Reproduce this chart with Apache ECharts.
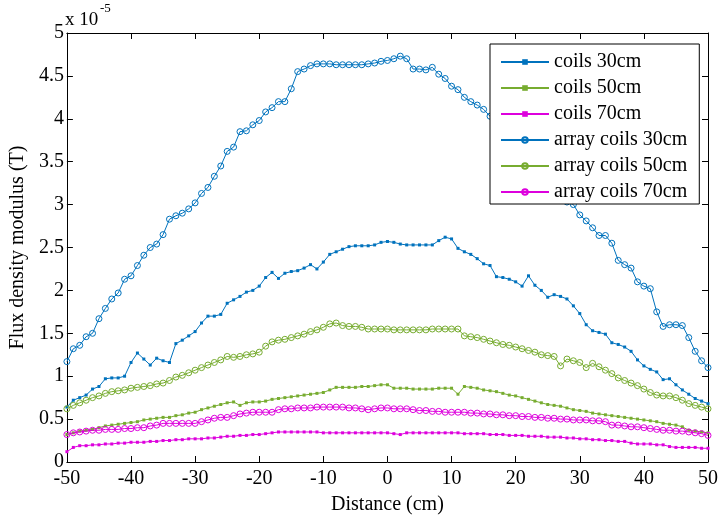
<!DOCTYPE html>
<html>
<head>
<meta charset="utf-8">
<script src="https://cdn.jsdelivr.net/npm/echarts@6/dist/echarts.min.js"></script>
<style>
  html, body { margin: 0; padding: 0; background: #fff; }
  #chart { width: 721px; height: 520px; }
</style>
</head>
<body>
<div id="chart"></div>
<script>
// Distance along the measurement line (cm)
const distance = [
  -50,-49,-48,-47,-46,-45,-44,-43,-42,-41,
  -40,-39,-38,-37,-36,-35,-34,-33,-32,-31,
  -30,-29,-28,-27,-26,-25,-24,-23,-22,-21,
  -20,-19,-18,-17,-16,-15,-14,-13,-12,-11,
  -10,-9,-8,-7,-6,-5,-4,-3,-2,-1,
  0,
  1,2,3,4,5,6,7,8,9,10,
  11,12,13,14,15,16,17,18,19,20,
  21,22,23,24,25,26,27,28,29,30,
  31,32,33,34,35,36,37,38,39,40,
  41,42,43,44,45,46,47,48,49,50
];

// Flux density modulus, in units of 1e-5 T
const coils30 = [
  0.64,0.72,0.75,0.78,0.85,0.88,0.97,0.98,0.98,1.00,
  1.16,1.27,1.20,1.13,1.21,1.18,1.16,1.38,1.42,1.47,
  1.52,1.62,1.70,1.70,1.72,1.85,1.89,1.93,1.98,2.00,
  2.05,2.15,2.21,2.14,2.20,2.22,2.23,2.26,2.30,2.25,
  2.33,2.42,2.45,2.48,2.51,2.52,2.52,2.52,2.53,2.56,
  2.57,
  2.56,2.54,2.53,2.53,2.53,2.53,2.53,2.58,2.62,2.60,
  2.49,2.45,2.42,2.37,2.31,2.29,2.16,2.15,2.13,2.10,
  2.05,2.17,2.06,2.00,1.92,1.95,1.93,1.90,1.82,1.73,
  1.60,1.53,1.51,1.49,1.39,1.37,1.34,1.29,1.19,1.12,
  1.08,1.05,0.96,0.97,0.90,0.84,0.79,0.74,0.71,0.68
];
const coils50 = [
  0.32,0.34,0.36,0.37,0.38,0.40,0.42,0.43,0.44,0.45,
  0.46,0.47,0.49,0.50,0.51,0.52,0.52,0.54,0.55,0.57,
  0.58,0.61,0.63,0.65,0.67,0.69,0.70,0.66,0.69,0.70,
  0.70,0.71,0.73,0.74,0.75,0.76,0.77,0.78,0.79,0.80,
  0.81,0.84,0.87,0.87,0.87,0.87,0.88,0.88,0.89,0.90,
  0.90,
  0.86,0.86,0.86,0.85,0.85,0.85,0.85,0.86,0.86,0.86,
  0.79,0.88,0.87,0.86,0.84,0.83,0.82,0.80,0.78,0.77,
  0.75,0.73,0.71,0.69,0.67,0.66,0.65,0.63,0.61,0.60,
  0.59,0.57,0.56,0.55,0.54,0.53,0.52,0.51,0.50,0.49,
  0.48,0.47,0.45,0.44,0.43,0.41,0.37,0.36,0.35,0.34
];
const coils70 = [
  0.12,0.17,0.19,0.19,0.20,0.20,0.21,0.21,0.22,0.22,
  0.23,0.23,0.23,0.24,0.24,0.25,0.25,0.26,0.26,0.27,
  0.27,0.27,0.28,0.28,0.29,0.30,0.30,0.31,0.31,0.32,
  0.32,0.33,0.34,0.35,0.35,0.35,0.35,0.35,0.35,0.35,
  0.34,0.34,0.34,0.34,0.34,0.34,0.34,0.34,0.34,0.34,
  0.34,
  0.33,0.32,0.34,0.34,0.34,0.34,0.34,0.34,0.34,0.34,
  0.34,0.33,0.33,0.33,0.33,0.32,0.32,0.32,0.31,0.31,
  0.31,0.30,0.30,0.30,0.29,0.29,0.29,0.28,0.28,0.27,
  0.27,0.26,0.26,0.25,0.25,0.24,0.24,0.22,0.21,0.21,
  0.21,0.20,0.20,0.18,0.17,0.17,0.17,0.17,0.16,0.16
];
const array30 = [
  1.17,1.32,1.36,1.46,1.50,1.67,1.79,1.90,1.97,2.13,
  2.17,2.29,2.41,2.50,2.54,2.65,2.83,2.87,2.90,2.95,
  3.02,3.13,3.20,3.33,3.45,3.62,3.67,3.85,3.86,3.93,
  3.98,4.08,4.13,4.20,4.20,4.35,4.55,4.58,4.62,4.64,
  4.64,4.64,4.63,4.63,4.63,4.63,4.63,4.64,4.65,4.67,
  4.68,
  4.70,4.73,4.70,4.58,4.58,4.57,4.60,4.52,4.47,4.38,
  4.34,4.25,4.20,4.16,4.11,4.03,3.95,3.84,3.77,3.66,
  3.58,3.47,3.40,3.31,3.22,3.14,3.08,3.03,3.00,2.88,
  2.81,2.73,2.64,2.64,2.55,2.35,2.30,2.26,2.10,2.05,
  2.02,1.75,1.58,1.60,1.60,1.59,1.45,1.29,1.18,1.10
];
const array50 = [
  0.62,0.66,0.69,0.72,0.75,0.77,0.80,0.82,0.83,0.84,
  0.86,0.87,0.88,0.89,0.91,0.92,0.95,0.99,1.01,1.04,
  1.07,1.10,1.13,1.16,1.19,1.23,1.22,1.23,1.25,1.26,
  1.28,1.35,1.40,1.42,1.43,1.45,1.47,1.49,1.52,1.54,
  1.57,1.61,1.62,1.59,1.58,1.58,1.57,1.55,1.55,1.55,
  1.55,
  1.54,1.54,1.54,1.54,1.54,1.54,1.55,1.55,1.55,1.55,
  1.55,1.47,1.46,1.45,1.43,1.41,1.39,1.37,1.36,1.34,
  1.32,1.30,1.28,1.25,1.24,1.23,1.12,1.20,1.18,1.16,
  1.10,1.15,1.11,1.07,1.03,0.98,0.95,0.92,0.89,0.85,
  0.81,0.78,0.77,0.77,0.75,0.72,0.68,0.66,0.64,0.62
];
const array70 = [
  0.32,0.34,0.35,0.36,0.37,0.37,0.38,0.38,0.38,0.39,
  0.39,0.40,0.40,0.42,0.43,0.45,0.45,0.45,0.45,0.45,
  0.45,0.47,0.49,0.51,0.52,0.52,0.54,0.56,0.57,0.58,
  0.58,0.58,0.58,0.61,0.62,0.62,0.63,0.63,0.63,0.64,
  0.64,0.64,0.64,0.64,0.63,0.63,0.62,0.61,0.62,0.63,
  0.63,
  0.62,0.62,0.62,0.61,0.60,0.60,0.59,0.59,0.58,0.58,
  0.58,0.58,0.57,0.57,0.56,0.56,0.55,0.55,0.54,0.54,
  0.53,0.53,0.52,0.52,0.51,0.51,0.50,0.50,0.49,0.49,
  0.49,0.48,0.48,0.47,0.43,0.43,0.42,0.41,0.41,0.40,
  0.39,0.38,0.37,0.37,0.36,0.36,0.35,0.34,0.33,0.31
];

const seriesNames = ['coils 30cm', 'coils 50cm', 'coils 70cm',
                     'array coils 30cm', 'array coils 50cm', 'array coils 70cm'];
const seriesValues = [coils30, coils50, coils70, array30, array50, array70];
const seriesColors = ['#0072BD', '#77AC30', '#DD00DD', '#0072BD', '#77AC30', '#DD00DD'];
const xTicks = { min: -50, max: 50, step: 10 };
const yTicks = { min: 0, max: 5, step: 0.5 };

const FONT = '"Liberation Serif", "Times New Roman", serif';

function buildSeries(i) {
  const isArray = i >= 3;
  const c = seriesColors[i];
  return {
    name: seriesNames[i],
    type: 'line',
    xAxisIndex: 0,
    yAxisIndex: 0,
    data: distance.map((d, k) => [d, seriesValues[i][k]]),
    color: c,
    showSymbol: true,
    showAllSymbol: true,
    symbol: isArray ? 'circle' : 'rect',
    symbolSize: isArray ? 6 : 3,
    lineStyle: { color: c, width: 1 },
    itemStyle: isArray
      ? { color: 'rgba(255,255,255,0)', borderColor: c, borderWidth: 1 }
      : { color: c, borderWidth: 0 },
    emphasis: { disabled: true },
    silent: true,
    z: 2 + i * 0.01
  };
}

const tickAxisCommon = {
  type: 'value',
  splitLine: { show: false },
  axisLine: { show: true, onZero: false, lineStyle: { color: '#000', width: 1 } },
  axisTick: { show: true, inside: true, length: 6, lineStyle: { color: '#000', width: 1 } }
};

const chart = echarts.init(document.getElementById('chart'), null, { renderer: 'canvas' });
chart.setOption({
  animation: false,
  backgroundColor: '#fff',
  grid: { left: 65, right: 11, top: 33, bottom: 57, containLabel: false },
  xAxis: [
    Object.assign({}, tickAxisCommon, {
      position: 'bottom',
      min: xTicks.min, max: xTicks.max, interval: xTicks.step,
      axisLabel: { color: '#000', fontFamily: FONT, fontSize: 20, margin: 7 },
      name: 'Distance (cm)',
      nameLocation: 'middle',
      nameGap: 33,
      nameTextStyle: { color: '#000', fontFamily: FONT, fontSize: 20 }
    }),
    Object.assign({}, tickAxisCommon, {
      position: 'top',
      min: xTicks.min, max: xTicks.max, interval: xTicks.step,
      axisLabel: { show: false }
    })
  ],
  yAxis: [
    Object.assign({}, tickAxisCommon, {
      position: 'left',
      min: yTicks.min, max: yTicks.max, interval: yTicks.step,
      axisLabel: { color: '#000', fontFamily: FONT, fontSize: 20, margin: 3 },
      name: 'Flux density modulus (T)',
      nameLocation: 'middle',
      nameGap: 38,
      nameTextStyle: { color: '#000', fontFamily: FONT, fontSize: 20 }
    }),
    Object.assign({}, tickAxisCommon, {
      position: 'right',
      min: yTicks.min, max: yTicks.max, interval: yTicks.step,
      axisLabel: { show: false }
    })
  ],
  legend: {
    orient: 'vertical',
    left: 490,
    top: 44,
    itemWidth: 48,
    itemHeight: 7,
    itemGap: 6,
    padding: [8, 12, 2, 10],
    backgroundColor: '#fff',
    borderColor: '#000',
    borderWidth: 1,
    borderRadius: 0,
    selectedMode: false,
    textStyle: { color: '#000', fontFamily: FONT, fontSize: 20, lineHeight: 20 },
    data: seriesNames
  },
  graphic: [
    {
      type: 'text', x: 65, y: 20, silent: true,
      style: { text: 'x 10', font: '19px ' + FONT, fill: '#000', textAlign: 'left', textVerticalAlign: 'middle' }
    },
    {
      type: 'text', x: 100, y: 9, silent: true,
      style: { text: '-5', font: '13px ' + FONT, fill: '#000', textAlign: 'left', textVerticalAlign: 'middle' }
    }
  ],
  series: seriesNames.map((_, i) => buildSeries(i))
});
</script>
</body>
</html>
